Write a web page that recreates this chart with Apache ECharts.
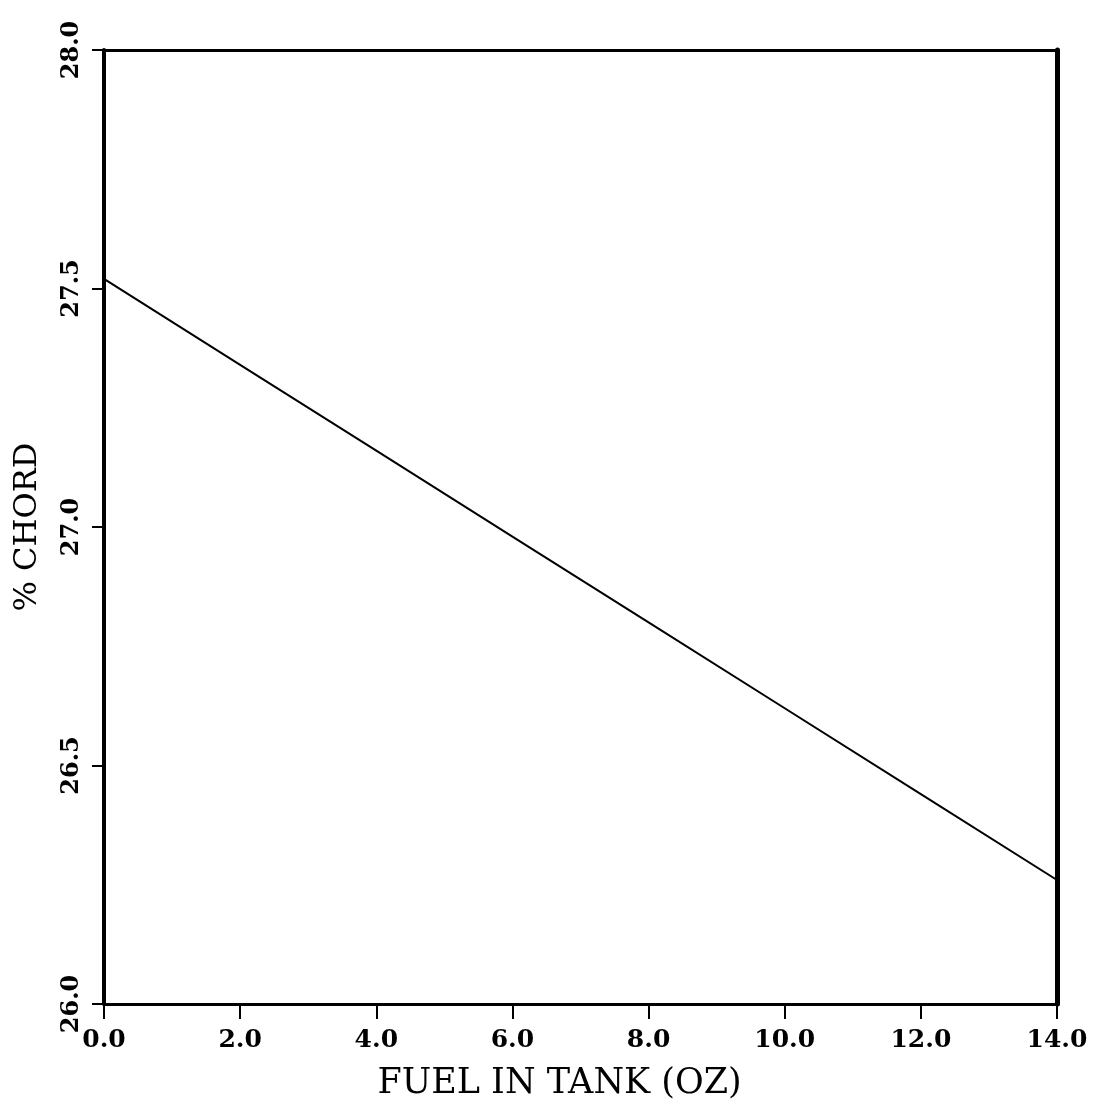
<!DOCTYPE html>
<html>
<head>
<meta charset="utf-8">
<script src="https://cdn.jsdelivr.net/npm/echarts@6/dist/echarts.min.js"></script>
<style>
  html, body { margin: 0; padding: 0; background: #fff; }
  #chart { width: 1107px; height: 1109px; }
</style>
</head>
<body>
<div id="chart"></div>
<script>
// values
var fuelOz = [0, 2, 4, 6, 8, 10, 12, 14]
var chordPct = [27.52, 27.34, 27.16, 26.98, 26.80, 26.62, 26.44, 26.26]
var xTicks = [0, 2, 4, 6, 8, 10, 12, 14]
var yTicks = [26.0, 26.5, 27.0, 27.5, 28.0]

var chartDom = document.getElementById('chart')
var myChart = echarts.init(chartDom)
var option

var points = fuelOz.map(function (x, i) { return [x, chordPct[i]] })

option = {
  animation: false,
  grid: {
    left: 104,
    right: 50,
    top: 50,
    bottom: 105
  },
  xAxis: [
    {
      type: 'value',
      min: xTicks[0],
      max: xTicks[xTicks.length - 1],
      interval: 2,
      position: 'bottom',
      name: 'FUEL IN TANK (OZ)',
      nameLocation: 'middle',
      nameGap: 62,
      nameTextStyle: {
        fontFamily: 'DejaVu Serif',
        fontSize: 35,
        color: '#000',
        padding: [0, 42, 0, 0]
      },
      axisLine: { onZero: false, lineStyle: { color: '#000', width: 3 } },
      axisTick: { length: 15, lineStyle: { color: '#000', width: 2 } },
      axisLabel: {
        margin: 24,
        fontFamily: 'DejaVu Serif',
        fontWeight: 'bold',
        fontSize: 25,
        color: '#000',
        formatter: function (v) { return v.toFixed(1) }
      },
      splitLine: { show: false }
    },
    {
      type: 'value',
      min: xTicks[0],
      max: xTicks[xTicks.length - 1],
      position: 'top',
      axisLine: { onZero: false, lineStyle: { color: '#000', width: 3 } },
      axisTick: { show: false },
      axisLabel: { show: false },
      splitLine: { show: false }
    }
  ],
  yAxis: [
    {
      type: 'value',
      min: yTicks[0],
      max: yTicks[yTicks.length - 1],
      interval: 0.5,
      position: 'left',
      name: '% CHORD',
      nameLocation: 'middle',
      nameGap: 60,
      nameRotate: 90,
      nameTextStyle: {
        fontFamily: 'DejaVu Serif',
        fontSize: 32,
        color: '#000'
      },
      axisLine: { onZero: false, lineStyle: { color: '#000', width: 4 } },
      axisTick: { length: 12, lineStyle: { color: '#000', width: 2 } },
      axisLabel: {
        rotate: 90,
        margin: 20,
        fontFamily: 'DejaVu Serif',
        fontWeight: 'bold',
        fontSize: 24,
        color: '#000',
        formatter: function (v) { return v.toFixed(1) }
      },
      splitLine: { show: false }
    },
    {
      type: 'value',
      min: yTicks[0],
      max: yTicks[yTicks.length - 1],
      position: 'right',
      axisLine: { onZero: false, lineStyle: { color: '#000', width: 5 } },
      axisTick: { show: false },
      axisLabel: { show: false },
      splitLine: { show: false }
    }
  ],
  series: [
    {
      type: 'line',
      data: points,
      showSymbol: false,
      lineStyle: { color: '#000', width: 2 }
    }
  ]
}

option && myChart.setOption(option)
</script>
</body>
</html>
